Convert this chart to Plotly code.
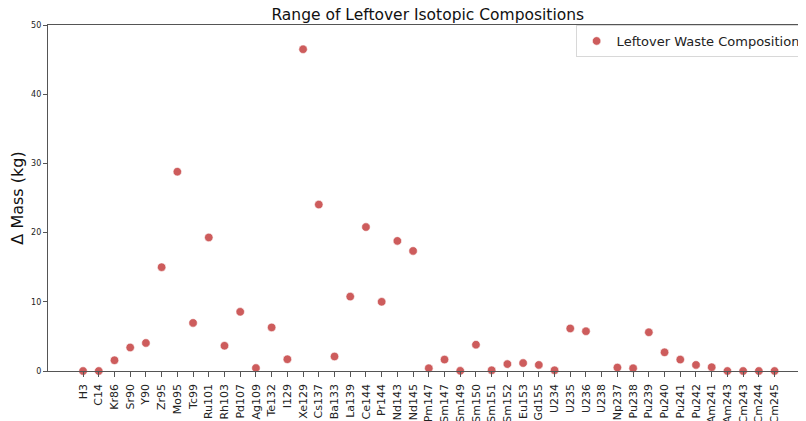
import plotly.graph_objects as go

isotopes = ["H3", "C14", "Kr86", "Sr90", "Y90", "Zr95", "Mo95", "Tc99", "Ru101", "Rh103",
            "Pd107", "Ag109", "Te132", "I129", "Xe129", "Cs137", "Ba133", "La139", "Ce144",
            "Pr144", "Nd143", "Nd145", "Pm147", "Sm147", "Sm149", "Sm150", "Sm151", "Sm152",
            "Eu153", "Gd155", "U234", "U235", "U236", "U238", "Np237", "Pu238", "Pu239",
            "Pu240", "Pu241", "Pu242", "Am241", "Am243", "Cm243", "Cm244", "Cm245"]
delta_mass = [0.0, 0.0, 1.55, 3.4, 4.05, 15.0, 28.8, 6.95, 19.3, 3.65,
              8.55, 0.43, 6.3, 1.7, 46.5, 24.05, 2.1, 10.75, 20.8,
              10.0, 18.8, 17.35, 0.4, 1.65, 0.02, 3.8, 0.1, 1.0,
              1.15, 0.88, 0.1, 6.15, 5.75, None, 0.5, 0.4, 5.6,
              2.7, 1.65, 0.88, 0.55, 0.0, 0.0, 0.0, 0.0]
y_ticks = [0, 10, 20, 30, 40, 50]

x_pos = list(range(len(isotopes)))

fig = go.Figure()
fig.add_trace(go.Scatter(
    x=x_pos, y=delta_mass, mode="markers", name="Leftover Waste Composition",
    marker=dict(color="#cd5c5c", size=8.5, line=dict(color="white", width=0.6)),
    cliponaxis=False,
))

fig.update_layout(
    width=798, height=413,
    margin=dict(l=40, r=0, t=17, b=50, autoexpand=False),
    paper_bgcolor="white", plot_bgcolor="white",
    font=dict(family="DejaVu Sans", color="#222222"),
    title=dict(text="Range of Leftover Isotopic Compositions", x=0.526, xanchor="center",
               y=0.985, yanchor="middle", font=dict(size=15.5, color="#111111")),
    showlegend=True,
    legend=dict(x=0.9995, xanchor="right", y=1.0, yanchor="top",
                bgcolor="white", bordercolor="#d8d8d8", borderwidth=1,
                font=dict(size=13, color="#222222"), itemwidth=30),
    xaxis=dict(range=[-2.23, 46.0], tickmode="array", tickvals=x_pos, ticktext=isotopes,
               tickangle=-90, tickfont=dict(size=11, color="#222222"),
               showgrid=False, zeroline=False, showline=True, linecolor="#555555",
               linewidth=1.2, mirror=True, ticks="outside", ticklen=4.5, tickcolor="#555555",
               ticklabelstandoff=3, automargin=False),
    yaxis=dict(range=[0, 50], tickmode="array", tickvals=y_ticks,
               tickfont=dict(size=8, color="#222222"),
               title=dict(text="Δ Mass (kg)", font=dict(size=16, color="#111111"), standoff=12),
               showgrid=False, zeroline=False, showline=True, linecolor="#555555",
               linewidth=1.2, ticks="outside", ticklen=4, tickcolor="#555555",
               automargin=False),
)

fig.write_html("out.html")
